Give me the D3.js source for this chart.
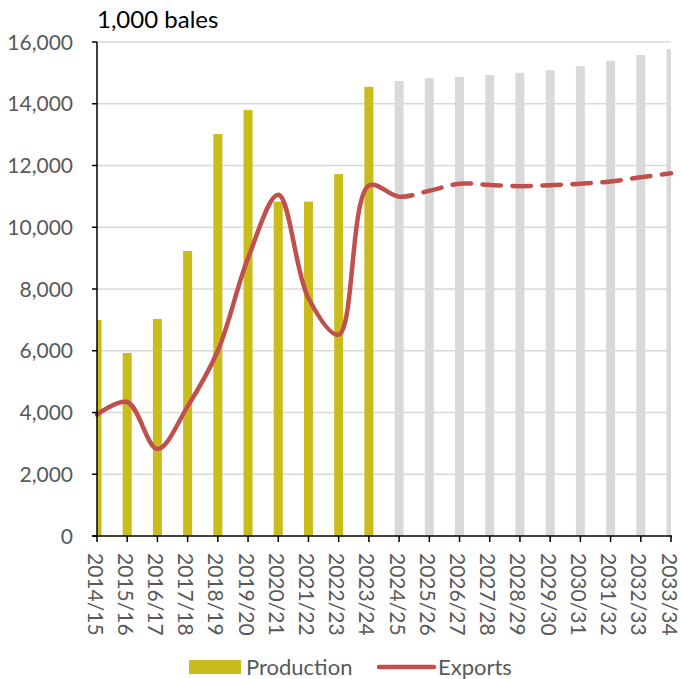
<!DOCTYPE html>
<html>
<head>
<meta charset="utf-8">
<script src="https://cdn.jsdelivr.net/npm/d3@7"></script>
<style>
  html, body { margin: 0; padding: 0; background: #fff; }
  svg { display: block; font-family: Lato, "Open Sans", sans-serif; }
</style>
</head>
<body>
<svg id="chart" width="681" height="679"></svg>
<script>
const categories = ["2014/15","2015/16","2016/17","2017/18","2018/19","2019/20","2020/21","2021/22","2022/23","2023/24",
  "2024/25","2025/26","2026/27","2027/28","2028/29","2029/30","2030/31","2031/32","2032/33","2033/34"];
const production = [7000, 5930, 7030, 9230, 13020, 13800, 10830, 10830, 11720, 14550,
  14740, 14830, 14870, 14930, 15000, 15090, 15220, 15390, 15580, 15770];
const exportsData = [3930, 4340, 2820, 4200, 6000, 9000, 11050, 7700, 6520, 11350,
  10990, 11180, 11410, 11370, 11330, 11360, 11410, 11480, 11620, 11750];
const projectionStart = "2024/25";
const yTicks = [0, 2000, 4000, 6000, 8000, 10000, 12000, 14000, 16000];
const unitLabel = "1,000 bales";
const seriesNames = ["Production", "Exports"];

const W = 681, H = 679;
const margin = {left: 97, right: 10, top: 42, bottom: 143};
const iw = W - margin.left - margin.right;
const ih = H - margin.top - margin.bottom;

const colHist = "#c9bc1c", colProj = "#d9d9d9", colLine = "#c0504d";
const gridCol = "#d9d9d9", textCol = "#595959";

const svg = d3.select("#chart");
const g = svg.append("g").attr("transform", `translate(${margin.left},${margin.top})`);

const x = d3.scalePoint().domain(categories).range([0, iw]).padding(0);
const y = d3.scaleLinear().domain([0, 16000]).range([ih, 0]);
const projIdx = categories.indexOf(projectionStart);

// clip
const defs = svg.append("defs");
defs.append("clipPath").attr("id", "plotClip").append("rect")
  .attr("x", 0).attr("y", -10).attr("width", iw).attr("height", ih + 10);
defs.append("clipPath").attr("id", "solidClip").append("rect")
  .attr("x", -10).attr("y", -20).attr("width", x(projectionStart) + 10).attr("height", ih + 40);
defs.append("clipPath").attr("id", "dashClip").append("rect")
  .attr("x", x(projectionStart)).attr("y", -20).attr("width", iw - x(projectionStart) + 20).attr("height", ih + 40);

// grid
g.append("g").selectAll("line").data(yTicks.filter(d => d > 0)).join("line")
  .attr("x1", 0).attr("x2", iw)
  .attr("y1", d => y(d)).attr("y2", d => y(d))
  .attr("stroke", gridCol).attr("stroke-width", 1.5);

// bars
const bw = 9;
g.append("g").attr("clip-path", "url(#plotClip)").selectAll("rect")
  .data(categories.map((c, i) => ({c, v: production[i], i}))).join("rect")
  .attr("x", d => x(d.c) - bw / 2).attr("width", bw)
  .attr("y", d => y(d.v)).attr("height", d => ih - y(d.v))
  .attr("fill", d => d.i >= projIdx ? colProj : colHist);

// line
const pts = categories.map((c, i) => [x(c), y(exportsData[i])]);
const line = d3.line().curve(d3.curveCatmullRom.alpha(0.5));
g.append("path").attr("d", line(pts.slice(0, projIdx + 2)))
  .attr("clip-path", "url(#solidClip)")
  .attr("fill", "none").attr("stroke", colLine).attr("stroke-width", 4.5)
  .attr("stroke-linecap", "round").attr("stroke-linejoin", "round");
const dashPath = g.append("path").attr("d", line(pts.slice(projIdx - 1)))
  .attr("clip-path", "url(#dashClip)")
  .attr("fill", "none").attr("stroke", colLine).attr("stroke-width", 4.5)
  .attr("stroke-linecap", "round").attr("stroke-linejoin", "round")
  .attr("stroke-dasharray", "18.5 11.5");
// align dash phase: a dash starting slightly before projection start
(function() {
  const node = dashPath.node();
  const total = node.getTotalLength();
  const targetX = x(projectionStart) - 5;
  let lo = 0, hi = total;
  for (let k = 0; k < 30; k++) {
    const mid = (lo + hi) / 2;
    if (node.getPointAtLength(mid).x < targetX) lo = mid; else hi = mid;
  }
  dashPath.attr("stroke-dashoffset", -lo);
})();

// axes
const yAxis = g.append("g");
yAxis.append("line").attr("x1", 0).attr("x2", 0).attr("y1", 0).attr("y2", ih)
  .attr("stroke", "#000").attr("stroke-width", 1.5);
yAxis.selectAll("line.t").data(yTicks).join("line").attr("class", "t")
  .attr("x1", -5).attr("x2", 0).attr("y1", d => y(d)).attr("y2", d => y(d))
  .attr("stroke", "#000").attr("stroke-width", 1.5);
yAxis.selectAll("text").data(yTicks).join("text")
  .attr("x", -24).attr("y", d => y(d)).attr("dy", "0.36em")
  .attr("text-anchor", "end").attr("fill", textCol).attr("font-size", 21)
  .text(d => d3.format(",")(d));

const xAxis = g.append("g").attr("transform", `translate(0,${ih})`);
xAxis.append("line").attr("x1", -5).attr("x2", iw + 1).attr("y1", 0).attr("y2", 0)
  .attr("stroke", "#000").attr("stroke-width", 1.5);
xAxis.selectAll("line.t").data(categories).join("line").attr("class", "t")
  .attr("x1", d => x(d)).attr("x2", d => x(d)).attr("y1", 0).attr("y2", 6)
  .attr("stroke", "#000").attr("stroke-width", 1.5);
xAxis.selectAll("text").data(categories).join("text")
  .attr("transform", d => `translate(${x(d)},17) rotate(90)`)
  .attr("dy", "0.45em").attr("text-anchor", "start")
  .attr("fill", textCol).attr("font-size", 21)
  .text(d => d);

// title
svg.append("text").attr("x", 97).attr("y", 28).attr("font-size", 24).attr("fill", "#000")
  .text(unitLabel);

// legend
const lg = svg.append("g");
lg.append("rect").attr("x", 189).attr("y", 660).attr("width", 52).attr("height", 14).attr("fill", colHist);
lg.append("text").attr("x", 246).attr("y", 675).attr("font-size", 22).attr("fill", textCol).text(seriesNames[0]);
lg.append("line").attr("x1", 379).attr("x2", 434).attr("y1", 667).attr("y2", 667)
  .attr("stroke", colLine).attr("stroke-width", 4.5).attr("stroke-linecap", "round");
lg.append("text").attr("x", 438).attr("y", 675).attr("font-size", 22).attr("fill", textCol).text(seriesNames[1]);
</script>
</body>
</html>
